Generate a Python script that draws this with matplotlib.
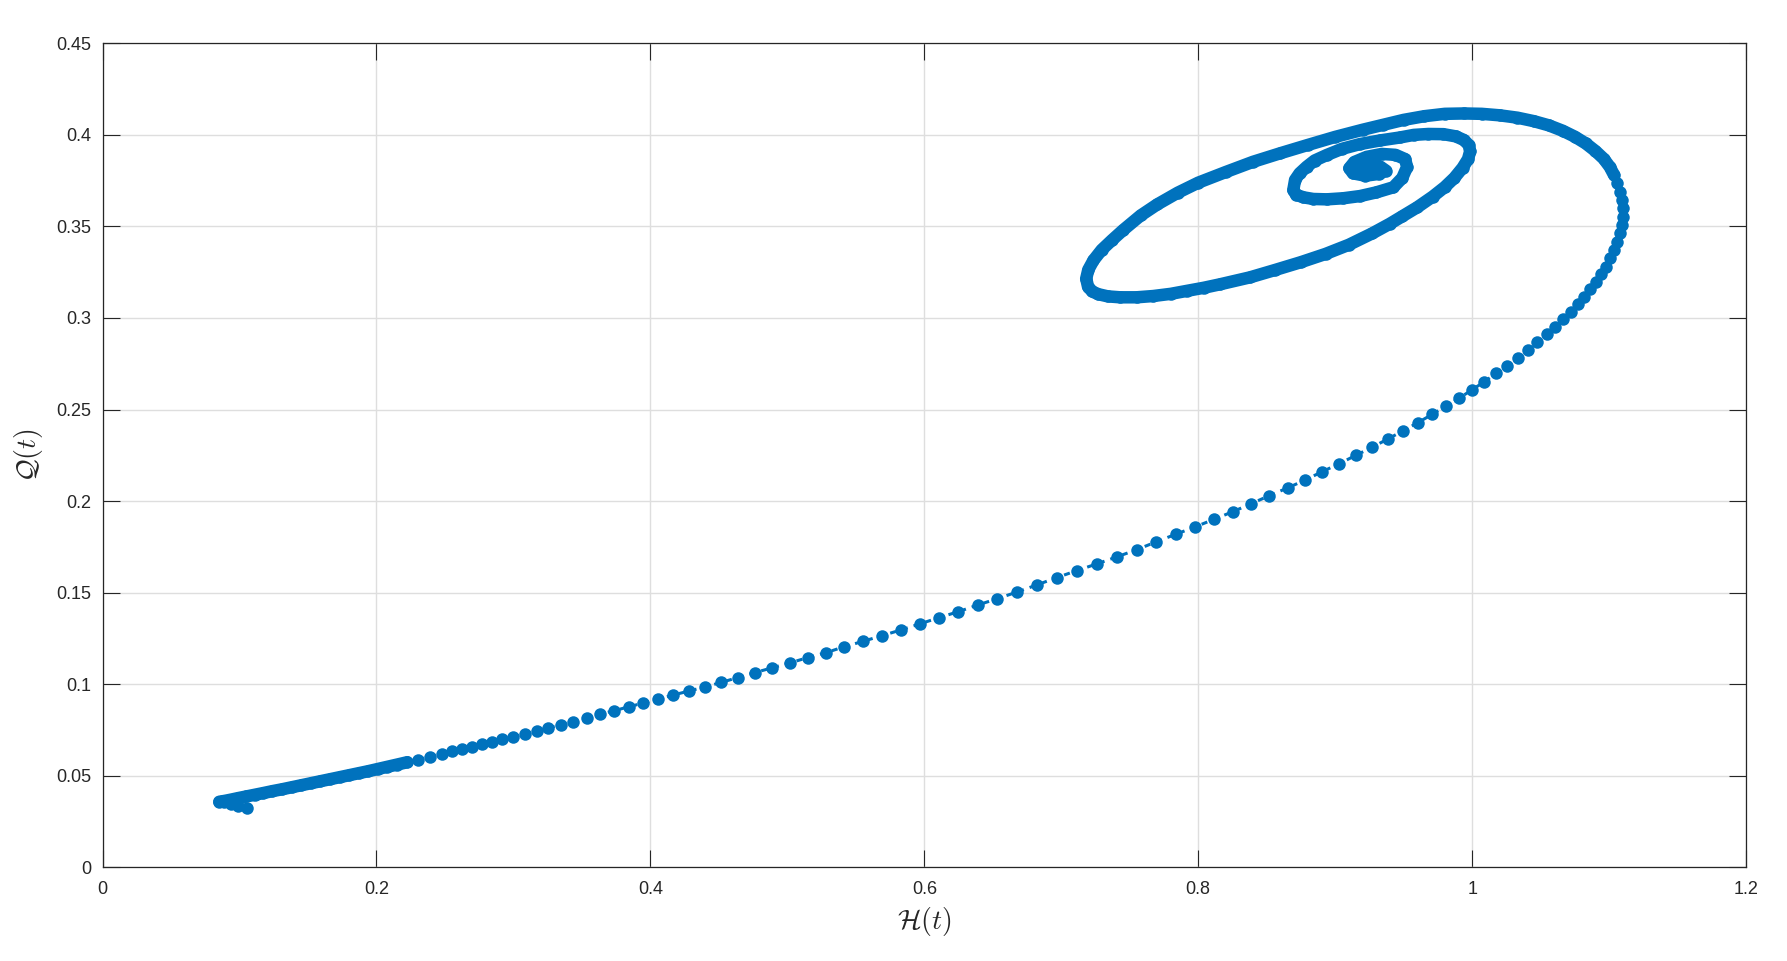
import matplotlib
matplotlib.use("Agg")
import matplotlib.pyplot as plt

# trajectory H(t), Q(t)
# first points (start of the run, short hook to the left)
h_tail = [0.1058, 0.0990, 0.0935, 0.0890]
q_tail = [0.0323, 0.0336, 0.0346, 0.0354]

# dense part right after the start, the dots merge into one band
h_band = [0.0852, 0.0870, 0.0900, 0.0940, 0.0990, 0.1050, 0.1110, 0.1170,
          0.1240, 0.1310, 0.1380, 0.1450, 0.1520, 0.1590, 0.1660, 0.1730,
          0.1800, 0.1870, 0.1940, 0.2010, 0.2080, 0.2150, 0.2225]
q_band = [0.0358, 0.0360, 0.0364, 0.0370, 0.0378, 0.0387, 0.0396, 0.0405,
          0.0416, 0.0426, 0.0437, 0.0448, 0.0459, 0.0470, 0.0481, 0.0492,
          0.0503, 0.0514, 0.0525, 0.0537, 0.0549, 0.0561, 0.0574]

# single dots along the rising branch
h_mid = [0.2305, 0.2391, 0.2476, 0.2549, 0.2622, 0.2695, 0.2768, 0.2841,
         0.2914, 0.2999, 0.3084, 0.3170, 0.3254, 0.3345, 0.3437, 0.3535,
         0.3632, 0.3734, 0.3844, 0.3948, 0.4058, 0.4167, 0.4282, 0.4399,
         0.4518, 0.4637, 0.4761, 0.4890, 0.5017, 0.5148, 0.5282, 0.5416,
         0.5552, 0.5691, 0.5828, 0.5966, 0.6105, 0.6248, 0.6392, 0.6533,
         0.6679, 0.6821, 0.6966, 0.7113, 0.7259, 0.7405, 0.7551, 0.7692,
         0.7836, 0.7977, 0.8116, 0.8252, 0.8388, 0.8519, 0.8656, 0.8780,
         0.8906, 0.9028, 0.9152, 0.9269, 0.9384, 0.9498, 0.9602, 0.9709,
         0.9809, 0.9907, 0.9997, 1.0089, 1.0175, 1.0257, 1.0333, 1.0406,
         1.0476, 1.0545, 1.0608, 1.0666, 1.0720, 1.0771, 1.0817, 1.0861,
         1.0903, 1.0941, 1.0976, 1.1007, 1.1036, 1.1060, 1.1080, 1.1092,
         1.1099, 1.1099, 1.1092, 1.1080, 1.1060]
q_mid = [0.0588, 0.0604, 0.0620, 0.0633, 0.0646, 0.0659, 0.0672, 0.0685,
         0.0699, 0.0713, 0.0728, 0.0744, 0.0761, 0.0777, 0.0795, 0.0814,
         0.0836, 0.0855, 0.0877, 0.0897, 0.0918, 0.0941, 0.0963, 0.0985,
         0.1010, 0.1036, 0.1063, 0.1090, 0.1116, 0.1145, 0.1172, 0.1205,
         0.1234, 0.1265, 0.1296, 0.1329, 0.1363, 0.1396, 0.1433, 0.1467,
         0.1504, 0.1542, 0.1582, 0.1620, 0.1657, 0.1695, 0.1735, 0.1777,
         0.1819, 0.1859, 0.1901, 0.1942, 0.1986, 0.2030, 0.2073, 0.2115,
         0.2161, 0.2204, 0.2250, 0.2294, 0.2339, 0.2385, 0.2428, 0.2474,
         0.2519, 0.2563, 0.2607, 0.2652, 0.2698, 0.2740, 0.2783, 0.2825,
         0.2869, 0.2911, 0.2953, 0.2995, 0.3034, 0.3075, 0.3116, 0.3158,
         0.3198, 0.3240, 0.3280, 0.3326, 0.3371, 0.3417, 0.3463, 0.3508,
         0.3553, 0.3599, 0.3645, 0.3690, 0.3736]

# the spiral, dots overlap into a thick band
h_spiral = [1.1036, 1.1005, 1.0960, 1.0900, 1.0830, 1.0750, 1.0660, 1.0560,
            1.0450, 1.0330, 1.0200, 1.0070, 0.9940, 0.9800, 0.9650, 0.9500,
            0.9350, 0.9200, 0.9000, 0.8800, 0.8600, 0.8400, 0.8200, 0.8000,
            0.7850, 0.7700, 0.7580, 0.7453, 0.7370, 0.7295, 0.7235, 0.7197,
            0.7182, 0.7195, 0.7225, 0.7270, 0.7340, 0.7429, 0.7550, 0.7672,
            0.7800, 0.7916, 0.8040, 0.8159, 0.8378, 0.8560, 0.8750, 0.8930,
            0.9100, 0.9270, 0.9400, 0.9489, 0.9600, 0.9712, 0.9800, 0.9870,
            0.9930, 0.9970, 0.9985, 0.9975, 0.9940, 0.9880, 0.9790, 0.9680,
            0.9574, 0.9474, 0.9330, 0.9182, 0.9050, 0.8938, 0.8850, 0.8792,
            0.8740, 0.8707, 0.8694, 0.8715, 0.8768, 0.8840, 0.8938, 0.9060,
            0.9182, 0.9300, 0.9425, 0.9490, 0.9525, 0.9510, 0.9440, 0.9340,
            0.9230, 0.9140, 0.9103, 0.9130, 0.9220, 0.9320, 0.9370, 0.9330,
            0.9260, 0.9200, 0.9240, 0.9290]
q_spiral = [0.3781, 0.3825, 0.3870, 0.3912, 0.3953, 0.3990, 0.4023, 0.4052,
            0.4075, 0.4094, 0.4107, 0.4115, 0.4117, 0.4115, 0.4102, 0.4082,
            0.4055, 0.4028, 0.3989, 0.3945, 0.3900, 0.3853, 0.3797, 0.3739,
            0.3684, 0.3620, 0.3560, 0.3481, 0.3425, 0.3372, 0.3315, 0.3263,
            0.3215, 0.3172, 0.3145, 0.3130, 0.3118, 0.3113, 0.3113, 0.3120,
            0.3132, 0.3148, 0.3165, 0.3184, 0.3222, 0.3262, 0.3305, 0.3350,
            0.3400, 0.3462, 0.3515, 0.3555, 0.3605, 0.3663, 0.3715, 0.3765,
            0.3820, 0.3868, 0.3910, 0.3945, 0.3972, 0.3992, 0.4004, 0.4005,
            0.4000, 0.3986, 0.3970, 0.3950, 0.3924, 0.3890, 0.3860, 0.3826,
            0.3790, 0.3754, 0.3699, 0.3673, 0.3659, 0.3650, 0.3648, 0.3654,
            0.3666, 0.3686, 0.3714, 0.3765, 0.3825, 0.3868, 0.3891, 0.3896,
            0.3880, 0.3852, 0.3818, 0.3790, 0.3777, 0.3787, 0.3805, 0.3826,
            0.3836, 0.3830, 0.3822, 0.3830]

x_ticks = [0, 0.2, 0.4, 0.6, 0.8, 1.0, 1.2]
x_labels = ['0', '0.2', '0.4', '0.6', '0.8', '1', '1.2']
y_ticks = [0, 0.05, 0.1, 0.15, 0.2, 0.25, 0.3, 0.35, 0.4, 0.45]
y_labels = ['0', '0.05', '0.1', '0.15', '0.2', '0.25', '0.3', '0.35', '0.4', '0.45']

blue = '#0072BD'
dark = '#262626'

plt.rcParams['font.family'] = ['Liberation Sans', 'DejaVu Sans']
plt.rcParams['mathtext.fontset'] = 'cm'

fig = plt.figure(figsize=(17.87, 9.61), dpi=100)
ax = fig.add_axes([0.0574, 0.0975, 0.9197, 0.8574])

h_all = h_tail + h_band + h_mid + h_spiral
q_all = q_tail + q_band + q_mid + q_spiral

# thick band where the points sit on top of each other
ax.plot(h_band, q_band, '-', color=blue, lw=9, solid_capstyle='round',
        solid_joinstyle='round')
ax.plot(h_spiral, q_spiral, '-', color=blue, lw=9, solid_capstyle='round',
        solid_joinstyle='round')
# the full trajectory, dashed line with dots
ax.plot(h_all, q_all, color=blue, lw=2.2, linestyle=(0, (2, 2)),
        marker='o', ms=9, mew=0)

ax.set_xlim(0, 1.2)
ax.set_ylim(0, 0.45)
ax.set_xticks(x_ticks)
ax.set_xticklabels(x_labels)
ax.set_yticks(y_ticks)
ax.set_yticklabels(y_labels)

ax.grid(True, color='#dedede', lw=1.0)
ax.set_axisbelow(True)
for s in ax.spines.values():
    s.set_color(dark)
    s.set_linewidth(0.9)

ax.tick_params(direction='in', length=12, width=0.8, top=True, right=True,
               labelsize=13, colors=dark)
ax.tick_params(axis='x', pad=10)
ax.tick_params(axis='y', pad=8)

ax.set_xlabel(r'$\mathcal{H}(t)$', fontsize=20, color=dark, va='center')
ax.xaxis.set_label_coords(0.5, -0.066)
ax.set_ylabel(r'$\mathcal{Q}(t)$', fontsize=20, color=dark, va='center')
ax.yaxis.set_label_coords(-0.045, 0.5)

fig.savefig('out.png', dpi=100)
